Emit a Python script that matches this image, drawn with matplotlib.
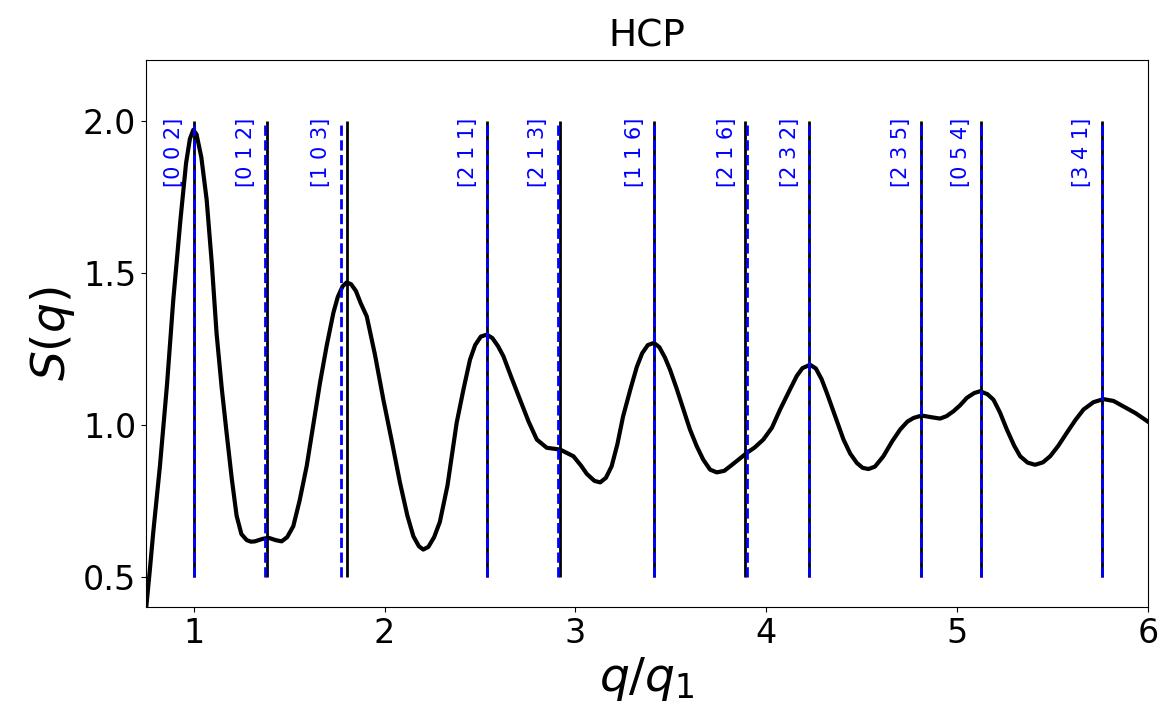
import matplotlib
matplotlib.use("Agg")
import matplotlib.pyplot as plt

# S(q)
q = [0.75, 0.77, 0.788, 0.805, 0.823, 0.86, 0.893, 0.93, 0.96, 0.98, 0.998,
     1.015, 1.04, 1.068, 1.095, 1.12, 1.147, 1.173, 1.2, 1.225, 1.25, 1.278,
     1.3, 1.321, 1.36, 1.391, 1.43, 1.461, 1.49, 1.522, 1.555, 1.592, 1.627,
     1.662, 1.697, 1.732, 1.755, 1.78, 1.802, 1.825, 1.85, 1.875, 1.907, 1.95,
     1.994, 2.04, 2.081, 2.12, 2.151, 2.18, 2.203, 2.23, 2.26, 2.29, 2.33,
     2.378, 2.415, 2.448, 2.475, 2.505, 2.536, 2.565, 2.595, 2.623, 2.665,
     2.71, 2.755, 2.798, 2.85, 2.92, 2.99, 3.03, 3.06, 3.1, 3.13, 3.16, 3.19,
     3.22, 3.25, 3.29, 3.322, 3.35, 3.38, 3.412, 3.44, 3.47, 3.496, 3.53,
     3.566, 3.6, 3.636, 3.67, 3.706, 3.741, 3.78, 3.811, 3.855, 3.898, 3.94,
     3.985, 4.03, 4.073, 4.12, 4.16, 4.19, 4.23, 4.26, 4.29, 4.318, 4.36,
     4.405, 4.44, 4.475, 4.505, 4.536, 4.57, 4.614, 4.66, 4.702, 4.74, 4.772,
     4.815, 4.86, 4.911, 4.945, 4.981, 5.015, 5.051, 5.09, 5.121, 5.16, 5.191,
     5.225, 5.261, 5.3, 5.331, 5.37, 5.409, 5.45, 5.488, 5.53, 5.575, 5.62,
     5.663, 5.715, 5.767, 5.82, 5.872, 5.935, 6.0]
s = [0.39, 0.52, 0.645, 0.75, 0.863, 1.13, 1.41, 1.67, 1.86, 1.94, 1.97,
     1.955, 1.88, 1.74, 1.53, 1.30, 1.12, 0.97, 0.82, 0.70, 0.64, 0.62,
     0.615, 0.616, 0.624, 0.628, 0.620, 0.616, 0.630, 0.666, 0.75, 0.863, 1.0,
     1.138, 1.26, 1.368, 1.42, 1.455, 1.468, 1.462, 1.44, 1.40, 1.356, 1.23,
     1.082, 0.94, 0.809, 0.70, 0.633, 0.60, 0.589, 0.598, 0.63, 0.68, 0.80,
     1.006, 1.12, 1.214, 1.262, 1.29, 1.296, 1.285, 1.258, 1.225, 1.155,
     1.082, 1.01, 0.951, 0.924, 0.918, 0.896, 0.865, 0.838, 0.815, 0.81,
     0.825, 0.863, 0.935, 1.027, 1.12, 1.19, 1.235, 1.262, 1.269, 1.255,
     1.22, 1.181, 1.12, 1.05, 0.985, 0.929, 0.885, 0.852, 0.843, 0.848,
     0.863, 0.885, 0.907, 0.925, 0.951, 0.99, 1.05, 1.11, 1.16, 1.186,
     1.197, 1.185, 1.15, 1.104, 1.03, 0.951, 0.905, 0.874, 0.858, 0.854,
     0.862, 0.896, 0.945, 0.984, 1.01, 1.022, 1.03, 1.025, 1.02, 1.028,
     1.044, 1.063, 1.088, 1.104, 1.11, 1.10, 1.082, 1.04, 0.984, 0.93, 0.896,
     0.875, 0.868, 0.876, 0.896, 0.93, 0.973, 1.015, 1.05, 1.074, 1.084,
     1.078, 1.06, 1.038, 1.01]

# reflection positions (blue dashed) and fitted peak positions (black)
hkl_labels = ["[0 0 2]", "[0 1 2]", "[1 0 3]", "[2 1 1]", "[2 1 3]", "[1 1 6]",
              "[2 1 6]", "[2 3 2]", "[2 3 5]", "[0 5 4]", "[3 4 1]"]
hkl_q = [1.0, 1.374, 1.772, 2.538, 2.909, 3.414, 3.898, 4.226, 4.811, 5.123, 5.759]
peak_q = [1.0, 1.386, 1.806, 2.536, 2.922, 3.412, 3.891, 4.226, 4.811, 5.123, 5.759]

fig = plt.figure(figsize=(11.65, 7.17), dpi=100)
ax = fig.add_axes([0.1253, 0.1534, 0.86, 0.763])

ax.plot(q, s, color="black", lw=3)
ax.vlines(peak_q, 0.5, 2.0, colors="black", lw=2)
ax.vlines(hkl_q, 0.5, 2.0, colors="blue", lw=2, linestyles="--")

for lab, xq in zip(hkl_labels, hkl_q):
    ax.text(xq - 0.05, 2.01, lab, rotation=90, ha="right", va="top",
            color="blue", fontsize=15)

ax.set_xlim(0.75, 6)
ax.set_ylim(0.4, 2.2)
ax.set_xticks([1, 2, 3, 4, 5, 6])
ax.set_yticks([0.5, 1.0, 1.5, 2.0])
ax.tick_params(axis="both", which="major", labelsize=24)
ax.set_xlabel(r"$q/q_1$", fontsize=34)
ax.set_ylabel(r"$S(q)$", fontsize=34)
ax.set_title("HCP", fontsize=27, pad=10)

fig.savefig("out.png", dpi=100)
